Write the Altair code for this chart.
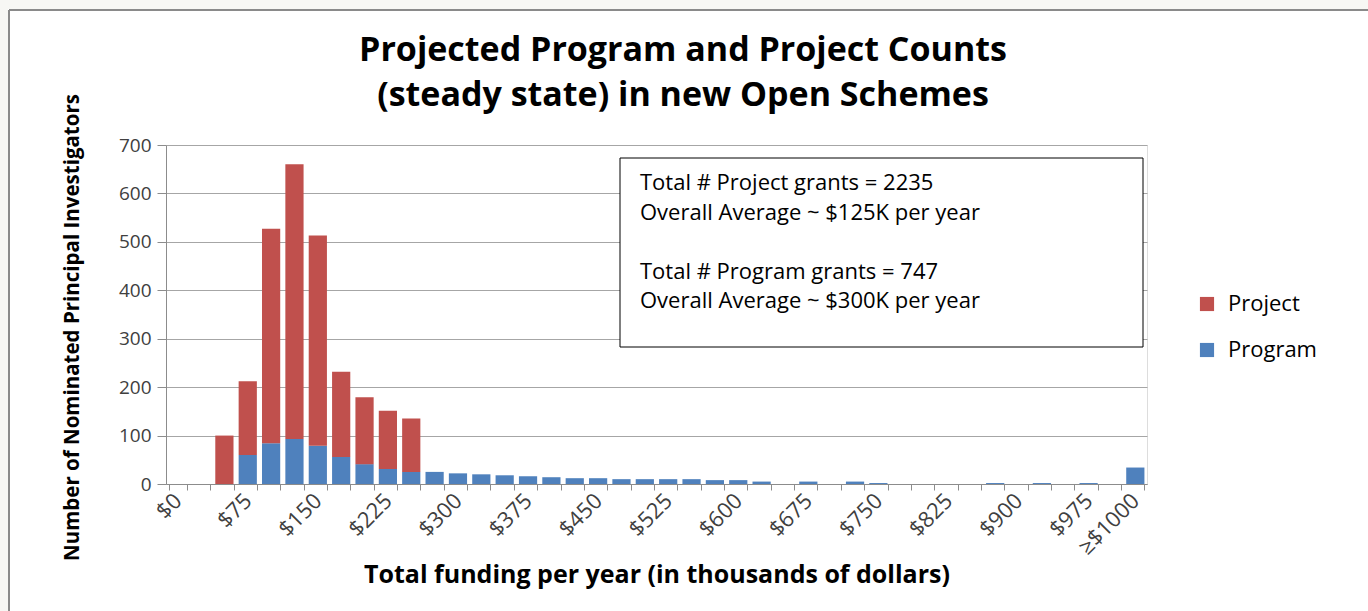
import altair as alt
import pandas as pd

categories = ["$" + str(v) for v in range(0, 1001, 25)] + ["≥$1000"]
shown_labels = ["$" + str(v) for v in range(0, 1000, 75)] + ["≥$1000"]

program = [0, 0, 0, 60, 84, 93, 79, 56, 41, 31,
           25, 25, 22, 20, 18, 16, 14, 12, 12, 10,
           10, 10, 10, 8, 8, 5, 0, 5, 0, 5,
           2, 0, 0, 0, 0, 2, 0, 2, 0, 2,
           0, 34]
project = [0, 0, 100, 152, 443, 567, 434, 176, 138, 120,
           110] + [0] * 31

series = ["Project", "Program"]
colors = ["#C0504D", "#4F81BD"]

title_lines = ["Projected Program and Project Counts", "(steady state) in new Open Schemes"]
note_lines = [
    "Total # Project grants = 2235",
    "Overall  Average ~ $125K per year",
    "",
    "Total # Program grants = 747",
    "Overall  Average ~ $300K per year",
]

rows = []
for i, c in enumerate(categories):
    rows.append({"cat": c, "series": "Program", "count": program[i], "ord": 0})
    rows.append({"cat": c, "series": "Project", "count": project[i], "ord": 1})
df = pd.DataFrame(rows)

FONT = "Open Sans"
lbl_list = "[" + ",".join("'" + s + "'" for s in shown_labels) + "]"

one = pd.DataFrame({"t": ["x"]})

# outer frame of the picture (outside the plot area)
strip_top = alt.Chart(one).mark_rect(fill="#f7f7f4").encode(
    x=alt.value(-166), x2=alt.value(1202), y=alt.value(-145), y2=alt.value(-136))
strip_left = alt.Chart(one).mark_rect(fill="#f7f7f4").encode(
    x=alt.value(-166), x2=alt.value(-158), y=alt.value(-145), y2=alt.value(466))
edge_top = alt.Chart(one).mark_rule(color="#8a8a8a", strokeWidth=2).encode(
    x=alt.value(-157), x2=alt.value(1202), y=alt.value(-135))
edge_left = alt.Chart(one).mark_rule(color="#8a8a8a", strokeWidth=2).encode(
    x=alt.value(-157), y=alt.value(-135), y2=alt.value(466))

bars = alt.Chart(df).mark_bar().encode(
    x=alt.X("cat:N", sort=categories,
            scale=alt.Scale(paddingInner=0.22, paddingOuter=0.11),
            axis=alt.Axis(title="Total funding per year (in thousands of dollars)",
                          labelAngle=-45, labelAlign="right", labelBaseline="middle",
                          labelFontSize=22, labelColor="#404040", labelFont=FONT,
                          labelExpr="indexof(" + lbl_list + ", datum.value) >= 0 ? datum.value : ''",
                          labelOverlap=False, labelPadding=7,
                          tickBand="extent", tickSize=6, tickColor="#8c8c8c",
                          domainColor="#8c8c8c", grid=False,
                          titleFontSize=25, titleFont=FONT, titleFontWeight="bold",
                          titleColor="#000000", titleY=78, titleBaseline="top")),
    y=alt.Y("count:Q", stack="zero",
            scale=alt.Scale(domain=[0, 700]),
            axis=alt.Axis(title="Number of Nominated Principal Investigators",
                          values=list(range(0, 701, 100)),
                          labelFontSize=19, labelColor="#404040", labelFont=FONT,
                          labelPadding=6, tickSize=9, tickColor="#8c8c8c",
                          domainColor="#8c8c8c", gridColor="#a6a6a6",
                          titleFontSize=20.5, titleFont=FONT, titleFontWeight="bold",
                          titleColor="#000000", titleX=-84, titleY=182,
                          titleAlign="center", titleBaseline="bottom")),
    color=alt.Color("series:N",
                    scale=alt.Scale(domain=series, range=colors),
                    legend=alt.Legend(title=None, orient="none", legendX=1030, legendY=148,
                                      labelFontSize=22, labelFont=FONT, labelColor="#000000",
                                      symbolType="square", symbolSize=200,
                                      symbolStrokeWidth=0, rowPadding=24, labelOffset=10)),
    order=alt.Order("ord:Q"),
)

box = alt.Chart(one).mark_rect(fill="white", stroke="black", strokeWidth=1).encode(
    x=alt.value(454), x2=alt.value(977), y=alt.value(13), y2=alt.value(202)
)

layers = [strip_top, strip_left, edge_top, edge_left, bars, box]

for k, line in enumerate(title_lines):
    layers.append(alt.Chart(one).mark_text(
        align="center", baseline="middle", fontSize=34, font=FONT, fontWeight="bold",
        color="#000000").encode(
        x=alt.value(517), y=alt.value(-94 + 45 * k), text=alt.value(line)))

for k, line in enumerate(note_lines):
    if not line:
        continue
    layers.append(alt.Chart(one).mark_text(
        align="left", baseline="middle", fontSize=22, font=FONT, color="#000000").encode(
        x=alt.value(474), y=alt.value(38 + 29.5 * k), text=alt.value(line)))

chart = alt.layer(*layers).properties(
    width=981, height=339,
    autosize=alt.AutoSizeParams(type="none"),
    padding={"left": 166, "top": 145, "right": 221, "bottom": 127},
).configure_view(stroke=None).configure(background="white")

chart.save("out.html", embed_options={"renderer": "svg", "actions": False})
